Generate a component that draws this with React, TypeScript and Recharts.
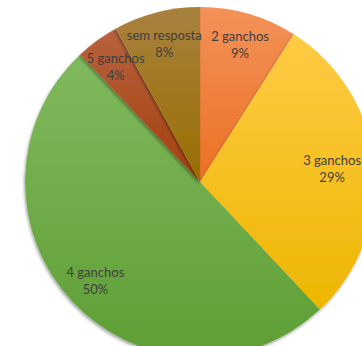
import { Cell, Pie, PieChart } from "recharts";

const categories = ["2 ganchos", "3 ganchos", "4 ganchos", "5 ganchos", "sem resposta"];
const shares = [9, 29, 50, 4, 8];
const topColors = ["#F3925A", "#FFCB45", "#80B95E", "#B8623E", "#A9813F"];
const bottomColors = ["#EB7022", "#EDB600", "#5E9E33", "#A2400C", "#986F00"];

const data = categories.map((name, i) => ({ name, value: shares[i] }));

const RADIAN = Math.PI / 180;

function renderLabel(props: any) {
  const { cx, cy, midAngle, outerRadius, index, percent } = props;
  const r = outerRadius * 0.82;
  // keep labels a bit inside the slice, like Excel's best fit
  const x = Math.min(cx + r * Math.cos(-midAngle * RADIAN), cx + outerRadius * 0.755);
  const y = cy + r * Math.sin(-midAngle * RADIAN);
  return (
    <text
      x={x}
      y={y}
      textAnchor="middle"
      fill="#404040"
      fontSize={13}
      fontFamily="Lato, sans-serif"
    >
      <tspan x={x} dy={-3}>
        {categories[index]}
      </tspan>
      <tspan x={x} dy={17}>
        {Math.round(percent * 100)}%
      </tspan>
    </text>
  );
}

export default function App() {
  return (
    <div style={{ position: "fixed", left: 0, top: 0, background: "#fff" }}>
      <PieChart width={362} height={346} margin={{ top: 0, right: 0, bottom: 0, left: 0 }}>
        <defs>
          {categories.map((c, i) => (
            <linearGradient key={c} id={`g${i}`} x1="0" y1="0" x2="0" y2="1">
              <stop offset="0%" stopColor={topColors[i]} />
              <stop offset="100%" stopColor={bottomColors[i]} />
            </linearGradient>
          ))}
          <filter id="shadow" x="-10%" y="-10%" width="120%" height="120%">
            <feDropShadow dx="-1" dy="2" stdDeviation="1.5" floodColor="#000" floodOpacity="0.35" />
          </filter>
        </defs>
        <Pie
          data={data}
          dataKey="value"
          nameKey="name"
          cx={200}
          cy={182}
          outerRadius={175}
          startAngle={90}
          endAngle={-270}
          stroke="none"
          label={renderLabel}
          labelLine={false}
          isAnimationActive={false}
          style={{ filter: "url(#shadow)" }}
        >
          {data.map((d, i) => (
            <Cell key={d.name} fill={`url(#g${i})`} />
          ))}
        </Pie>
      </PieChart>
    </div>
  );
}
